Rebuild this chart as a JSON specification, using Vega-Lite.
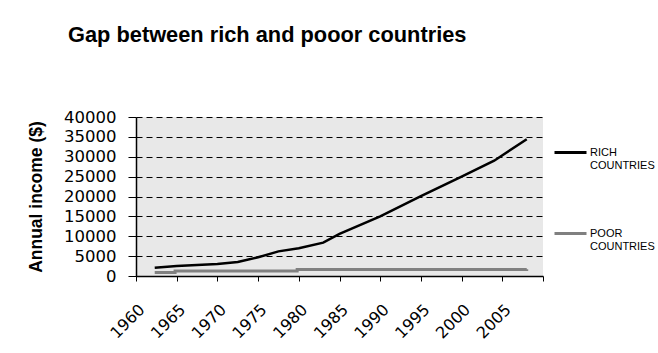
{
  "$schema": "https://vega.github.io/schema/vega-lite/v6.json",
  "autosize": {"type": "none"},
  "width": 407,
  "height": 159,
  "padding": {"left": 136, "top": 117, "right": 115, "bottom": 77},
  "background": "#ffffff",
  "title": {
    "text": "Gap between rich and pooor countries",
    "font": "Liberation Sans",
    "fontSize": 21.8,
    "fontWeight": "bold",
    "color": "#000000",
    "anchor": "start",
    "frame": "group",
    "dx": -68,
    "offset": 62
  },
  "data": {
    "values": [
      {"year": 1962.3, "income": 2100, "series": "RICH COUNTRIES"},
      {"year": 1965, "income": 2500, "series": "RICH COUNTRIES"},
      {"year": 1970, "income": 3000, "series": "RICH COUNTRIES"},
      {"year": 1972.5, "income": 3500, "series": "RICH COUNTRIES"},
      {"year": 1975, "income": 4700, "series": "RICH COUNTRIES"},
      {"year": 1977.5, "income": 6200, "series": "RICH COUNTRIES"},
      {"year": 1980, "income": 7000, "series": "RICH COUNTRIES"},
      {"year": 1983, "income": 8400, "series": "RICH COUNTRIES"},
      {"year": 1985, "income": 10600, "series": "RICH COUNTRIES"},
      {"year": 1990, "income": 15000, "series": "RICH COUNTRIES"},
      {"year": 1995, "income": 20100, "series": "RICH COUNTRIES"},
      {"year": 2000, "income": 25000, "series": "RICH COUNTRIES"},
      {"year": 2004, "income": 29000, "series": "RICH COUNTRIES"},
      {"year": 2008, "income": 34400, "series": "RICH COUNTRIES"},
      {"year": 1962.3, "income": 850, "series": "POOR COUNTRIES"},
      {"year": 1964.8, "income": 1250, "series": "POOR COUNTRIES"},
      {"year": 1979.8, "income": 1650, "series": "POOR COUNTRIES"},
      {"year": 2008, "income": 1700, "series": "POOR COUNTRIES"}
    ]
  },
  "encoding": {
    "x": {
      "field": "year",
      "type": "quantitative",
      "scale": {"domain": [1960, 2010], "nice": false, "zero": false},
      "axis": {
        "title": null,
        "values": [1960, 1965, 1970, 1975, 1980, 1985, 1990, 1995, 2000, 2005, 2010],
        "labelExpr": "datum.value == 2010 ? '' : datum.value",
        "format": "d",
        "grid": false,
        "labelAngle": -45,
        "labelFont": "DejaVu Sans",
        "labelFontSize": 16,
        "labelColor": "#000000",
        "labelPadding": 20,
        "labelOverlap": false,
        "tickColor": "#000000",
        "tickSize": 5,
        "domainColor": "#000000",
        "domainWidth": 1.5
      }
    },
    "y": {
      "field": "income",
      "type": "quantitative",
      "scale": {"domain": [0, 40000], "nice": false},
      "axis": {
        "title": "Annual income ($)",
        "titleFont": "Liberation Sans",
        "titleFontSize": 17.5,
        "titleFontWeight": "bold",
        "titleColor": "#000000",
        "titlePadding": 18,
        "values": [0, 5000, 10000, 15000, 20000, 25000, 30000, 35000, 40000],
        "format": "d",
        "labelFont": "DejaVu Sans",
        "labelFontSize": 16.5,
        "labelColor": "#000000",
        "labelPadding": 12,
        "tickColor": "#000000",
        "tickSize": 8,
        "domainColor": "#000000",
        "domainWidth": 1.5,
        "grid": true,
        "gridColor": "#000000",
        "gridDash": [6, 4],
        "gridWidth": 1,
        "gridOpacity": 1
      }
    },
    "color": {
      "field": "series",
      "type": "nominal",
      "scale": {"domain": ["RICH COUNTRIES", "POOR COUNTRIES"], "range": ["#000000", "#808080"]},
      "legend": {
        "title": null,
        "orient": "none",
        "legendX": 417,
        "legendY": 18,
        "symbolType": "stroke",
        "symbolSize": 1024,
        "symbolStrokeWidth": 3,
        "labelFont": "Liberation Sans",
        "labelFontSize": 11,
        "labelColor": "#000000",
        "labelOffset": 2,
        "labelLimit": 200,
        "labelExpr": "split(datum.label, ' ')",
        "rowPadding": 45,
        "padding": 0
      }
    }
  },
  "layer": [
    {
      "transform": [{"filter": "datum.series == 'RICH COUNTRIES'"}],
      "mark": {"type": "line", "strokeWidth": 2.5, "interpolate": "linear"}
    },
    {
      "transform": [{"filter": "datum.series == 'POOR COUNTRIES'"}],
      "mark": {"type": "line", "strokeWidth": 3, "interpolate": "step-after"}
    }
  ],
  "config": {
    "view": {"fill": "#e8e8e8", "stroke": null}
  }
}
